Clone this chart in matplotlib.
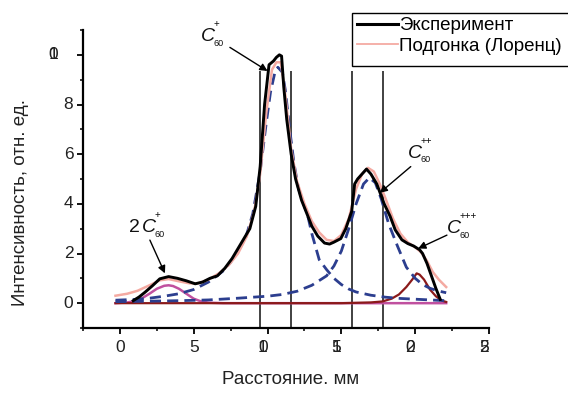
import matplotlib
matplotlib.use("Agg")
import matplotlib.pyplot as plt
from matplotlib.lines import Line2D
from matplotlib.patches import Rectangle

plt.rcParams['font.family'] = ['Liberation Sans', 'DejaVu Sans']

# ---------------- data ----------------
exp_x = [0.9, 1.3, 1.7, 2.2, 2.7, 3.3, 3.9, 4.5, 5.1, 5.6, 6.1, 6.6, 7.1, 7.6, 8.2,
         8.8, 9.2, 9.5, 9.8, 10.1, 10.4, 10.6, 10.8, 10.95, 11.1, 11.3, 11.6, 11.9,
         12.3, 12.6, 13.0, 13.4, 13.86, 14.2, 14.47, 14.96, 15.3, 15.7, 15.9, 16.1,
         16.4, 16.7, 17.0, 17.4, 17.9, 18.3, 18.65, 19.1, 19.5, 19.9, 20.3, 20.5,
         20.8, 21.1, 21.4, 21.7]
exp_y = [0.1, 0.25, 0.44, 0.7, 0.98, 1.07, 1.0, 0.9, 0.78, 0.85, 1.0, 1.1, 1.4, 1.8, 2.4,
         3.0, 3.9, 5.5, 8.0, 9.6, 9.75, 9.9, 10.0, 9.95, 8.7, 7.4, 6.0, 5.0,
         4.15, 3.7, 3.1, 2.7, 2.42, 2.38, 2.45, 2.6, 3.0, 3.7, 4.8, 5.0,
         5.2, 5.4, 5.2, 4.8, 4.0, 3.5, 2.95, 2.55, 2.4, 2.3, 2.15, 2.0,
         1.6, 1.1, 0.6, 0.15]

fit_x = [-0.3, 0.5, 1.2, 2.0, 2.7, 3.3, 4.0, 4.7, 5.3, 6.0, 6.7, 7.4, 8.0, 8.6, 9.1,
         9.5, 9.9, 10.3, 10.6, 10.9, 11.2, 11.6, 12.0, 12.5, 13.0, 13.5, 14.0, 14.5,
         15.0, 15.5, 16.0, 16.4, 16.8, 17.2, 17.6, 18.0, 18.5, 19.0, 19.5, 20.0,
         20.4, 20.8, 21.2, 21.6, 22.1]
fit_y = [0.3, 0.38, 0.5, 0.72, 0.92, 0.97, 0.88, 0.8, 0.8, 0.95, 1.2, 1.55, 2.0, 2.7, 3.7,
         5.2, 7.6, 9.4, 9.7, 9.7, 8.4, 6.2, 4.9, 4.0, 3.3, 2.85, 2.55, 2.5,
         2.75, 3.4, 4.6, 5.2, 5.45, 5.3, 4.8, 4.2, 3.4, 2.8, 2.45, 2.25,
         2.05, 1.7, 1.25, 0.95, 0.65]

c60p_x = [-0.3, 1, 2, 3, 4, 5, 6, 7, 7.5, 8, 8.5, 9, 9.5, 9.9, 10.2, 10.5, 10.7, 11.0,
          11.2, 11.5, 11.8, 12.1, 12.5, 12.75, 13.0, 13.5, 14.0, 14.5, 15.0, 15.5,
          16, 17, 18, 19, 20, 21, 22.1]
c60p_y = [0.12, 0.15, 0.2, 0.28, 0.38, 0.55, 0.85, 1.3, 1.65, 2.1, 2.6, 3.6, 5.3, 7.2,
          8.5, 9.3, 9.5, 9.3, 8.6, 7.0, 5.6, 4.6, 3.9, 3.45, 2.8, 1.75, 1.35, 1.0, 0.75,
          0.57, 0.45, 0.32, 0.24, 0.19, 0.16, 0.13, 0.1]

c60pp_x = [-0.3, 2, 4, 6, 8, 10, 11, 12, 13, 14, 14.5, 15, 15.5, 16.0, 16.5, 16.9, 17.3,
           17.7, 18.2, 18.8, 19.4, 20, 20.5, 21, 21.5, 22.1]
c60pp_y = [0.06, 0.08, 0.1, 0.13, 0.2, 0.28, 0.35, 0.48, 0.72, 1.1, 1.5, 2.1, 3.0, 4.0,
           4.8, 5.05, 4.85, 4.2, 3.2, 2.3, 1.45, 1.0, 0.75, 0.6, 0.5, 0.42]

dimer_x = [-0.3, 0.5, 1.0, 1.5, 2.0, 2.5, 3.0, 3.3, 3.6, 4.0, 4.5, 5.0, 5.5, 6.0, 7,
           10, 15, 20, 22.1]
dimer_y = [0.0, 0.03, 0.08, 0.2, 0.38, 0.58, 0.7, 0.72, 0.69, 0.58, 0.38, 0.18, 0.07,
           0.02, 0.0, 0, 0, 0, 0]

c60ppp_x = [-0.3, 5, 10, 15, 17, 17.8, 18.4, 18.9, 19.4, 19.8, 20.1, 20.3, 20.6, 21.0,
            21.4, 21.8, 22.1]
c60ppp_y = [0, 0, 0, 0.0, 0.03, 0.07, 0.18, 0.35, 0.65, 0.95, 1.2, 1.15, 0.95, 0.55,
            0.28, 0.1, 0.05]

vline_x = [9.5, 11.6, 15.7, 17.8]
vline_top = 9.35

x_ticks = [0, 5, 10, 15, 20, 25]
x_tick_labels = ['0', '5', '10', '15', '20', '25']
y_ticks = [0, 2, 4, 6, 8, 10]
y_tick_labels = ['0', '2', '4', '6', '8', '10']

legend_labels = ['Эксперимент', 'Подгонка (Лоренц)']
x_label = 'Расстояние. мм'
y_label = 'Интенсивность, отн. ед.'

# peak labels: (prefix, charge, x, y of "C" left-baseline), arrows (tail, head)
peak_labels = [('', '+', 5.49, 10.56), ('', '++', 19.5, 5.85),
               ('', '+++', 22.15, 2.82), ('2', '+', 1.49, 2.86)]
peak_arrows = [((7.45, 10.3), (10.0, 9.35)), ((19.7, 5.5), (17.6, 4.44)),
               ((22.15, 2.74), (20.2, 2.2)), ((2.03, 2.54), (3.05, 1.2))]

# ---------------- figure ----------------
W, H = 568, 396
fig = plt.figure(figsize=(W / 100, H / 100), dpi=100)
ax = fig.add_axes([83 / W, 1 - 328 / H, (489 - 83) / W, (328 - 30) / H])
ax.set_xlim(-2.5, 25)
ax.set_ylim(-1, 11)

blue = '#2c3e8f'
ax.vlines(vline_x, -1, vline_top, colors='#333333', lw=1.3, zorder=1)
ax.plot(dimer_x, dimer_y, color='#c0509f', lw=1.8, zorder=2)
ax.plot(c60ppp_x, c60ppp_y, color='#8b1a1a', lw=1.6, zorder=2)
ax.plot(c60p_x, c60p_y, color=blue, lw=2.0, ls=(0, (4, 2.2)), zorder=3)
ax.plot(c60pp_x, c60pp_y, color=blue, lw=2.0, ls=(0, (4, 2.2)), zorder=3)
ax.plot(fit_x, fit_y, color='#f4aaa2', lw=1.8, zorder=4)
ax.plot(exp_x, exp_y, color='black', lw=2.1, zorder=5)

# axes styling
for s in ['top', 'right']:
    ax.spines[s].set_visible(False)
for s in ['left', 'bottom']:
    ax.spines[s].set_linewidth(1.6)
ax.set_xticks(x_ticks)
ax.set_xticks([t + 2.5 for t in [-5] + x_ticks[:-1]], minor=True)
ax.set_yticks(y_ticks)
ax.set_yticks([-1, 1, 3, 5, 7, 9, 11], minor=True)
ax.tick_params(which='major', direction='out', length=4.5, width=1.3, labelbottom=False,
               labelleft=False)
ax.tick_params(which='minor', direction='out', length=2.5, width=1.1)

fs_tick = 12.5
digit_w = 0.556 * fs_tick
for t, lab in zip(x_ticks, x_tick_labels):
    off = -(len(lab) - 1) * digit_w / 2
    for ch in lab:
        ax.annotate(ch, xy=(t, 0), xycoords=('data', 'axes fraction'),
                    xytext=(off, -9), textcoords='offset points',
                    ha='center', va='top', fontsize=fs_tick, color='#222222')
for t, lab in zip(y_ticks, y_tick_labels):
    off = -7 - (len(lab) - 1) * 11
    for ch in lab:
        ax.annotate(ch, xy=(0, t), xycoords=('axes fraction', 'data'),
                    xytext=(off, 0), textcoords='offset points',
                    ha='right', va='center', fontsize=fs_tick, color='#222222')

fig.text(291 / W, 1 - 380 / H, x_label, ha='center', va='center', fontsize=13.5,
         color='#222222')
fig.text(21 / W, 1 - 202 / H, y_label, ha='center', va='center', rotation=90,
         fontsize=13.5, color='#222222')

# peak annotations
for prefix, charge, cx, cy in peak_labels:
    if prefix:
        ax.annotate(prefix, xy=(cx, cy), xytext=(-9.5, 0), textcoords='offset points',
                    ha='left', va='baseline', fontsize=14, color='#111111',
                    annotation_clip=False)
    ax.annotate('C', xy=(cx, cy), xytext=(0, 0), textcoords='offset points',
                ha='left', va='baseline', fontsize=14, style='italic', color='#111111',
                annotation_clip=False)
    ax.annotate(charge, xy=(cx, cy), xytext=(9.0, 12.5), textcoords='offset points',
                ha='left', va='center', fontsize=7, color='#111111',
                annotation_clip=False)
    ax.annotate('60', xy=(cx, cy), xytext=(9.3, -1.5), textcoords='offset points',
                ha='left', va='center', fontsize=6.5, color='#111111',
                annotation_clip=False)

for tail, head in peak_arrows:
    ax.annotate('', xy=head, xytext=tail,
                arrowprops=dict(arrowstyle='-|>', color='black', lw=1.0,
                                mutation_scale=11, shrinkA=0, shrinkB=0), zorder=6)

# legend (frame drawn separately)
fig.patches.append(Rectangle((352 / W, 1 - 66 / H), (570 - 352) / W, (66 - 13) / H,
                             transform=fig.transFigure, fill=True, facecolor='white',
                             edgecolor='black', lw=1.0, zorder=0))
handles = [Line2D([], [], color='black', lw=2.2),
           Line2D([], [], color='#f4aaa2', lw=1.3)]
leg = fig.legend(handles, legend_labels, loc='upper left',
                 bbox_to_anchor=(357 / W, 1 - 17 / H), bbox_transform=fig.transFigure,
                 fontsize=13.5, frameon=False, borderpad=0.0, handlelength=2.2,
                 handletextpad=0.05, labelspacing=0.2, borderaxespad=0)

fig.savefig('out.png', dpi=100)
